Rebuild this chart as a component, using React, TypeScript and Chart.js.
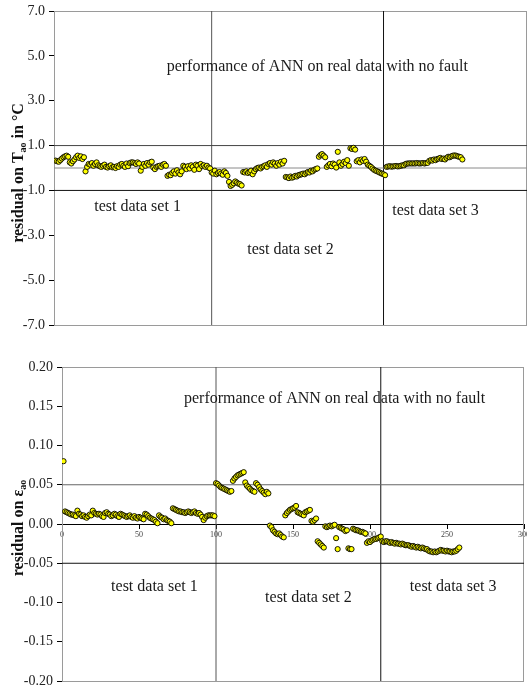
import React, { useEffect, useRef } from "react";
import { Chart, registerables } from "chart.js";

Chart.register(...registerables);

const FONT = '"Liberation Serif", "Times New Roman", serif';

// ---------- data: top chart (residual on T_ao, °C), sample index 1..n ----------
const TOP_RESIDUAL = [
  0.33, 0.30, 0.28, 0.35,
  0.42, 0.48, 0.52, 0.55, 0.50,
  0.25, 0.20, 0.30,
  0.38, 0.48, 0.55, 0.45, 0.52, 0.40, 0.48,
  -0.15,
  0.05, 0.18, 0.15, 0.22, 0.10, 0.18, 0.25, 0.12,
  0.08, 0.05, 0.10, 0.15, 0.05, 0.02, 0.08, 0.12, 0.03, 0.05, 0.00, 0.08, 0.05,
  0.15, 0.18, 0.10, 0.05, 0.20, 0.08,
  0.22, 0.25, 0.25, 0.22, 0.18, 0.25, 0.20,
  -0.12,
  0.05, 0.18, 0.10, 0.22, 0.15, 0.25, 0.28,
  0.02, -0.05, 0.05, 0.08, 0.10, 0.05, 0.15, 0.18, 0.10,
  -0.35, -0.30, -0.32,
  -0.22, -0.15, -0.25, -0.10, -0.20, -0.28, -0.15,
  0.10, 0.05, -0.05, 0.08,
  -0.02, 0.12, 0.05, -0.08, 0.15, 0.10, -0.05, 0.18, 0.08, 0.12, 0.05, 0.10, 0.02,
  -0.02, -0.20, -0.25, -0.12, -0.28, -0.22,
  -0.18, -0.25, -0.30, -0.15, -0.22, -0.35,
  -0.62, -0.80, -0.75, -0.68, -0.60,
  -0.65, -0.70, -0.72, -0.78,
  -0.18, -0.20, -0.15, -0.22, -0.18, -0.12, -0.28, -0.15,
  -0.05, 0.00, 0.02, -0.02, 0.05,
  0.08, 0.12, 0.05, 0.18, 0.22, 0.15, 0.25, 0.20, 0.10, 0.22, 0.15, 0.28, 0.20, 0.32,
  -0.40, -0.42, -0.45, -0.38, -0.43,
  -0.40, -0.35, -0.38, -0.32, -0.30, -0.28, -0.25, -0.28, -0.22, -0.18, -0.20, -0.12, -0.15, -0.08, -0.05, -0.02,
  0.50, 0.58, 0.62, 0.55, 0.48,
  0.05, 0.12, 0.18, 0.08, 0.20, 0.15, 0.02,
  0.72,
  0.25, 0.10, 0.18, 0.28, 0.22, 0.35, 0.10,
  0.88, 0.85, 0.90, 0.82,
  0.30, 0.35, 0.25, 0.38, 0.32, 0.40, 0.28,
  0.15, 0.10, 0.05, -0.02, -0.08, -0.12, -0.15, -0.18, -0.22, -0.25, -0.28, -0.32,
  0.05, 0.07, 0.08, 0.06, 0.07, 0.08, 0.09, 0.07, 0.08, 0.10, 0.12, 0.12,
  0.18, 0.20, 0.20, 0.21, 0.20, 0.21, 0.20, 0.22, 0.21, 0.20, 0.21, 0.22, 0.20, 0.22, 0.23,
  0.32, 0.35, 0.33, 0.38, 0.35, 0.40, 0.42, 0.45, 0.40, 0.42, 0.38, 0.45, 0.50, 0.48,
  0.52, 0.55, 0.56, 0.55, 0.52, 0.50, 0.48, 0.38,
];

// ---------- data: bottom chart (residual on epsilon_ao) ----------
const BOTTOM_RESIDUAL = [
  0.080,
  0.016, 0.015, 0.014, 0.013, 0.012, 0.012, 0.011, 0.010,
  0.017, 0.013, 0.012, 0.010, 0.011, 0.009, 0.008, 0.010, 0.012, 0.011,
  0.017, 0.014, 0.013, 0.012, 0.013, 0.012, 0.010, 0.009, 0.014, 0.015, 0.013,
  0.012, 0.010, 0.011, 0.013, 0.012, 0.010, 0.009, 0.013, 0.012, 0.011, 0.010, 0.009, 0.010, 0.011, 0.009,
  0.008, 0.010, 0.008, 0.007, 0.009, 0.008, 0.007, 0.006,
  0.013, 0.012, 0.010, 0.008, 0.007, 0.006, 0.005, 0.003, 0.001,
  0.011, 0.009, 0.008, 0.006, 0.007, 0.005, 0.004, 0.003, 0.001,
  0.020, 0.019, 0.018, 0.017, 0.016, 0.016, 0.015, 0.015, 0.014, 0.015, 0.016, 0.015, 0.014, 0.015, 0.016, 0.014, 0.013, 0.014, 0.012,
  0.009, 0.005, 0.008, 0.010, 0.011, 0.011, 0.011, 0.011,
  0.010,
  0.052, 0.051, 0.049, 0.047, 0.046, 0.045, 0.044, 0.043, 0.042, 0.041, 0.042,
  0.055, 0.058, 0.060, 0.062, 0.063, 0.064, 0.065, 0.066,
  0.053, 0.049, 0.047, 0.045, 0.043, 0.042, 0.041,
  0.052, 0.050, 0.047, 0.044, 0.042, 0.040, 0.038, 0.041, 0.039,
  -0.002, -0.004, -0.008, -0.010, -0.012, -0.013, -0.012, -0.014, -0.016, -0.017,
  0.011, 0.014, 0.016, 0.018, 0.019, 0.020, 0.021, 0.023,
  0.015, 0.014, 0.013, 0.012, 0.011, 0.015, 0.016, 0.017, 0.018,
  0.004, 0.003, 0.005, 0.007,
  -0.022, -0.024, -0.026, -0.028, -0.030,
  -0.003, -0.004, -0.003, -0.002, -0.003, -0.002, -0.001,
  -0.018, -0.032,
  -0.004, -0.005, -0.006, -0.007, -0.009, -0.008,
  -0.031, -0.032, -0.032,
  -0.006, -0.007, -0.008, -0.008, -0.009, -0.010, -0.010, -0.011, -0.012,
  -0.024, -0.022, -0.023, -0.021,
  -0.020, -0.019, -0.019, -0.018, -0.017, -0.016,
  -0.022, -0.023, -0.022, -0.022, -0.023, -0.024, -0.023, -0.024, -0.025, -0.024, -0.025, -0.025, -0.026, -0.025, -0.026, -0.027, -0.027,
  -0.027, -0.028, -0.029, -0.028, -0.029, -0.030, -0.029, -0.030, -0.031, -0.030, -0.031, -0.032, -0.032,
  -0.034, -0.035, -0.035, -0.036, -0.035, -0.036, -0.035, -0.034,
  -0.033, -0.034, -0.034, -0.035, -0.034, -0.035, -0.035, -0.036, -0.035, -0.035, -0.034, -0.032, -0.030,
];

// reference lines
const TOP_HLINES = [1, 0, -1];
const TOP_HLINE_COLORS = ["#444444", "#8a8a8a", "#111111"];
const TOP_SET_BOUNDS = [100, 209];
const BOTTOM_HLINES = [0.05, -0.05];
const BOTTOM_HLINE_COLORS = ["#666666", "#111111"];
const BOTTOM_SET_BOUNDS = [100, 207];
const BOUND_COLORS = ["#555555", "#111111"];

// annotations
const NOTE_TEXTS = [
  "performance of ANN on real data with no fault",
  "test data set 1",
  "test data set 2",
  "test data set 3",
];
const TOP_NOTE_X = [167, 53, 150, 242];
const TOP_NOTE_Y = [4.5, -1.74, -3.66, -1.92];
const BOTTOM_NOTE_X = [177, 60, 160, 254];
const BOTTOM_NOTE_Y = [0.16, -0.0806, -0.0934, -0.0794];

const X_MIN = 0;
const X_MAX = 300;

type Part = { t: string; sub?: boolean };

const TOP_TITLE: Part[] = [
  { t: "residual on T" },
  { t: "ao", sub: true },
  { t: " in °C" },
];
const BOTTOM_TITLE: Part[] = [{ t: "residual on ε" }, { t: "ao", sub: true }];

function framePlugin(color: string) {
  return {
    id: "frame",
    beforeDatasetsDraw(chart: any) {
      const { ctx, chartArea: a } = chart;
      ctx.save();
      ctx.strokeStyle = color;
      ctx.lineWidth = 1;
      ctx.strokeRect(Math.round(a.left) + 0.5, Math.round(a.top) + 0.5, Math.round(a.right - a.left) - 1, Math.round(a.bottom - a.top));
      ctx.restore();
    },
  };
}

function notesPlugin(xs: number[], ys: number[]) {
  return {
    id: "notes",
    afterDatasetsDraw(chart: any) {
      const { ctx } = chart;
      const xs_ = chart.scales.x;
      const ys_ = chart.scales.y;
      ctx.save();
      ctx.font = `16px ${FONT}`;
      ctx.fillStyle = "#1a1a1a";
      ctx.textAlign = "center";
      ctx.textBaseline = "middle";
      NOTE_TEXTS.forEach((t, i) => {
        ctx.fillText(t, xs_.getPixelForValue(xs[i]), ys_.getPixelForValue(ys[i]));
      });
      ctx.restore();
    },
  };
}

function yTitlePlugin(parts: Part[], baseX: number, centerY: number) {
  return {
    id: "ytitle",
    afterDraw(chart: any) {
      const { ctx } = chart;
      const main = `bold 16px ${FONT}`;
      const sub = `bold 10px ${FONT}`;
      ctx.save();
      ctx.fillStyle = "#111";
      let total = 0;
      parts.forEach((p) => {
        ctx.font = p.sub ? sub : main;
        total += ctx.measureText(p.t).width;
      });
      ctx.translate(baseX, centerY);
      ctx.rotate(-Math.PI / 2);
      ctx.textBaseline = "alphabetic";
      ctx.textAlign = "left";
      let x = -total / 2;
      parts.forEach((p) => {
        ctx.font = p.sub ? sub : main;
        ctx.fillText(p.t, x, p.sub ? 3 : 0);
        x += ctx.measureText(p.t).width;
      });
      ctx.restore();
    },
  };
}

function hLine(v: number, color: string) {
  return {
    type: "scatter",
    data: [{ x: X_MIN, y: v }, { x: X_MAX, y: v }],
    showLine: true,
    borderColor: color,
    borderWidth: 1,
    pointRadius: 0,
    order: 2,
  };
}
function vLine(v: number, lo: number, hi: number, color: string) {
  return {
    type: "scatter",
    data: [{ x: v, y: lo }, { x: v, y: hi }],
    showLine: true,
    borderColor: color,
    borderWidth: 1,
    pointRadius: 0,
    order: 2,
  };
}
function pointsDataset(values: number[]) {
  return {
    type: "scatter",
    data: values.map((v, i) => ({ x: i + 1, y: v })),
    pointRadius: 2.6,
    pointBackgroundColor: "#ffff00",
    pointBorderColor: "#000000",
    pointBorderWidth: 0.9,
    order: 0,
  };
}

function ChartCanvas({ width, height, build }: { width: number; height: number; build: () => any }) {
  const ref = useRef<HTMLCanvasElement | null>(null);
  useEffect(() => {
    if (!ref.current) return;
    const chart = new Chart(ref.current, build());
    return () => chart.destroy();
  }, []);
  return <canvas ref={ref} width={width} height={height} style={{ display: "block", width, height }} />;
}

const yAfterFit = (w: number) => (s: any) => {
  s.width = w;
  s.paddingTop = 0;
  s.paddingBottom = 0;
};

function buildTop() {
  return {
    type: "scatter",
    data: {
      datasets: [
        pointsDataset(TOP_RESIDUAL),
        ...TOP_HLINES.map((v, i) => hLine(v, TOP_HLINE_COLORS[i])),
        ...TOP_SET_BOUNDS.map((v, i) => vLine(v, -7, 7, BOUND_COLORS[i])),
      ],
    },
    options: {
      responsive: false,
      animation: false,
      devicePixelRatio: 1,
      layout: { autoPadding: false, padding: { left: 0, right: 0, top: 11, bottom: 10 } },
      plugins: { legend: { display: false }, tooltip: { enabled: false } },
      scales: {
        x: { type: "linear", min: X_MIN, max: X_MAX, display: false },
        y: {
          type: "linear",
          min: -7,
          max: 7,
          ticks: {
            stepSize: 2,
            callback: (v: any) => Number(v).toFixed(1),
            font: { family: FONT, size: 14 },
            color: "#222",
            padding: 4,
          },
          grid: { drawOnChartArea: false, drawTicks: true, tickLength: 5, color: "#000" },
          border: { color: "#000", width: 1 },
          afterFit: yAfterFit(54),
        },
      },
    },
    plugins: [framePlugin("#9a9a9a"), notesPlugin(TOP_NOTE_X, TOP_NOTE_Y), yTitlePlugin(TOP_TITLE, 23, 173)],
  };
}

function buildBottom() {
  return {
    type: "scatter",
    data: {
      datasets: [
        pointsDataset(BOTTOM_RESIDUAL),
        ...BOTTOM_HLINES.map((v, i) => hLine(v, BOTTOM_HLINE_COLORS[i])),
        ...BOTTOM_SET_BOUNDS.map((v, i) => vLine(v, -0.2, 0.2, BOUND_COLORS[i])),
      ],
    },
    options: {
      responsive: false,
      animation: false,
      devicePixelRatio: 1,
      layout: { autoPadding: false, padding: { left: 0, right: 3, top: 32, bottom: 7 } },
      plugins: { legend: { display: false }, tooltip: { enabled: false } },
      scales: {
        x: {
          type: "linear",
          min: X_MIN,
          max: X_MAX,
          position: { y: 0 },
          ticks: { stepSize: 50, font: { family: FONT, size: 8 }, color: "#444", padding: 2, maxRotation: 0 },
          grid: { drawOnChartArea: false, drawTicks: true, tickLength: 4, color: "#000" },
          border: { color: "#000", width: 1 },
          afterFit: (s: any) => {
            s.paddingLeft = 0;
            s.paddingRight = 0;
          },
        },
        y: {
          type: "linear",
          min: -0.2,
          max: 0.2,
          ticks: {
            stepSize: 0.05,
            callback: (v: any) => Number(v).toFixed(2),
            font: { family: FONT, size: 14 },
            color: "#222",
            padding: 4,
          },
          grid: { drawOnChartArea: false, drawTicks: true, tickLength: 5, color: "#000" },
          border: { color: "#000", width: 1 },
          afterFit: yAfterFit(62),
        },
      },
    },
    plugins: [framePlugin("#9a9a9a"), notesPlugin(BOTTOM_NOTE_X, BOTTOM_NOTE_Y), yTitlePlugin(BOTTOM_TITLE, 23, 193)],
  };
}

export default function App() {
  return (
    <div style={{ position: "absolute", left: 0, top: 0, width: 527, height: 688, background: "#fff" }}>
      <ChartCanvas width={527} height={335} build={buildTop} />
      <ChartCanvas width={527} height={353} build={buildBottom} />
    </div>
  );
}
